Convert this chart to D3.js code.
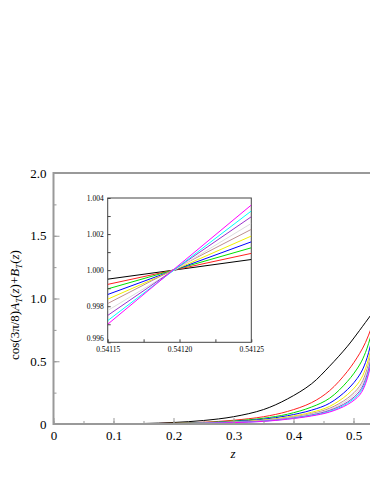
<!DOCTYPE html>
<html>
<head>
<meta charset="utf-8">
<script src="https://cdn.jsdelivr.net/npm/d3@7"></script>
<style>
  body { margin: 0; background: #fff; }
  svg { display: block; font-family: "Liberation Serif", "Times New Roman", serif; }
</style>
</head>
<body>
<svg width="370" height="479"></svg>
<script>
var zs = [0, 0.1, 0.15, 0.2, 0.25, 0.3, 0.35, 0.39, 0.43, 0.46, 0.49, 0.51, 0.52, 0.53, 0.54];

var curveBlack   = [0, 0.001, 0.004, 0.012, 0.028, 0.058, 0.115, 0.20, 0.32, 0.46, 0.62, 0.745, 0.81, 0.875, 0.94];
var curveRed     = [0, 0.0005, 0.002, 0.006, 0.014, 0.03, 0.058, 0.10, 0.17, 0.265, 0.42, 0.56, 0.65, 0.77, 0.91];
var curveGreen   = [0, 0.0004, 0.0015, 0.005, 0.011, 0.024, 0.046, 0.078, 0.135, 0.205, 0.34, 0.47, 0.57, 0.72, 0.90];
var curveBlue    = [0, 0.0003, 0.001, 0.004, 0.009, 0.02, 0.038, 0.066, 0.11, 0.165, 0.275, 0.39, 0.49, 0.66, 0.88];
var curveYellow  = [0, 0.0003, 0.001, 0.0035, 0.008, 0.017, 0.032, 0.056, 0.093, 0.14, 0.235, 0.34, 0.44, 0.62, 0.86];
var curveRosy    = [0, 0.0002, 0.001, 0.003, 0.007, 0.015, 0.028, 0.05, 0.083, 0.125, 0.205, 0.30, 0.40, 0.58, 0.84];
var curveGray    = [0, 0.0002, 0.001, 0.003, 0.0065, 0.014, 0.026, 0.046, 0.077, 0.115, 0.19, 0.28, 0.375, 0.555, 0.82];
var curvePurple  = [0, 0.0002, 0.0008, 0.0025, 0.006, 0.013, 0.024, 0.043, 0.072, 0.108, 0.175, 0.26, 0.355, 0.535, 0.80];
var curveCyan    = [0, 0.0002, 0.0008, 0.0025, 0.0055, 0.012, 0.022, 0.04, 0.068, 0.10, 0.165, 0.245, 0.335, 0.515, 0.78];
var curveMagenta = [0, 0.0002, 0.0007, 0.002, 0.005, 0.011, 0.021, 0.038, 0.064, 0.095, 0.155, 0.23, 0.32, 0.50, 0.76];

var colors = ["#000000", "#ff2020", "#00e000", "#0000ff", "#f0f000", "#bc8f8f", "#dcdcdc", "#9932cc", "#00ffff", "#ff00ff"];
var curves = [curveBlack, curveRed, curveGreen, curveBlue, curveYellow, curveRosy, curveGray, curvePurple, curveCyan, curveMagenta];

// inset: values at both ends of the zoomed z window
var insetZ = [0.54115, 0.54125];
var insetLeft  = [0.9995, 0.99921, 0.99896, 0.99865, 0.99839, 0.99815, 0.99776, 0.99749, 0.9972, 0.9970];
var insetRight = [1.00059, 1.00093, 1.00124, 1.00157, 1.00189, 1.00226, 1.00259, 1.00296, 1.00328, 1.00361];

var xTicks = [0, 0.1, 0.2, 0.3, 0.4, 0.5];
var xTickLabels = ["0", "0.1", "0.2", "0.3", "0.4", "0.5"];
var yTicks = [0, 0.5, 1.0, 1.5, 2.0];
var yTickLabels = ["0", "0.5", "1.0", "1.5", "2.0"];
var insetXTicks = [0.54115, 0.5412, 0.54125];
var insetXLabels = ["0.54115", "0.54120", "0.54125"];
var insetYTicks = [0.996, 0.998, 1.0, 1.002, 1.004];
var insetYLabels = ["0.996", "0.998", "1.000", "1.002", "1.004"];

var svg = d3.select("svg");
var frameColor = "#999";
var serif = "Liberation Serif, Times New Roman, serif";

// main panel
var x = d3.scaleLinear().domain([0, 0.55]).range([53.5, 383.5]);
var y = d3.scaleLinear().domain([0, 2]).range([424, 173]);

var g = svg.append("g");

var line = d3.line()
  .x(function (d) { return x(d[0]); })
  .y(function (d) { return y(d[1]); })
  .curve(d3.curveCatmullRom.alpha(0.5));

curves.forEach(function (c, i) {
  g.append("path")
    .datum(zs.map(function (z, j) { return [z, c[j]]; }))
    .attr("d", line)
    .attr("fill", "none")
    .attr("stroke", colors[i])
    .attr("stroke-width", 1);
});

// frame
g.append("rect")
  .attr("x", x(0)).attr("y", y(2))
  .attr("width", x(0.55) - x(0)).attr("height", y(0) - y(2))
  .attr("fill", "none").attr("stroke", frameColor).attr("stroke-width", 2);

// ticks pointing inward
var xAxis = d3.axisBottom(x).tickValues(d3.range(0, 0.551, 0.05)).tickSize(-3).tickFormat("");
var xMajor = d3.axisBottom(x).tickValues(xTicks).tickSize(-6)
  .tickFormat(function (d, i) { return xTickLabels[i]; }).tickPadding(7);
g.append("g").attr("transform", "translate(0," + y(0) + ")").call(xAxis);
g.append("g").attr("transform", "translate(0," + y(0) + ")").call(xMajor);

var yAxis = d3.axisLeft(y).tickValues(d3.range(0, 2.01, 0.25)).tickSize(-3).tickFormat("");
var yMajor = d3.axisLeft(y).tickValues(yTicks).tickSize(-6)
  .tickFormat(function (d, i) { return yTickLabels[i]; }).tickPadding(7);
g.append("g").attr("transform", "translate(" + x(0) + ",0)").call(yAxis);
g.append("g").attr("transform", "translate(" + x(0) + ",0)").call(yMajor);

g.selectAll(".domain").remove();
g.selectAll(".tick line").attr("stroke", frameColor).attr("stroke-width", 1);
g.selectAll("g").attr("font-family", serif);
g.selectAll(".tick text")
  .attr("fill", "#000")
  .style("font-family", serif)
  .style("font-size", "13px");

// axis titles
g.append("text")
  .attr("x", 233).attr("y", 458)
  .attr("text-anchor", "middle")
  .style("font-size", "13px").style("font-style", "italic")
  .text("z");

var yl = g.append("text")
  .attr("transform", "translate(19,305) rotate(-90)")
  .attr("text-anchor", "middle")
  .style("font-size", "13px");
yl.append("tspan").text("cos(3π/8)");
yl.append("tspan").style("font-style", "italic").text("A");
yl.append("tspan").style("font-style", "italic").style("font-size", "9px").attr("dy", 3).text("T");
yl.append("tspan").attr("dy", -3).text("(");
yl.append("tspan").style("font-style", "italic").text("z");
yl.append("tspan").text(")+");
yl.append("tspan").style("font-style", "italic").text("B");
yl.append("tspan").style("font-style", "italic").style("font-size", "9px").attr("dy", 3).text("T");
yl.append("tspan").attr("dy", -3).text("(");
yl.append("tspan").style("font-style", "italic").text("z");
yl.append("tspan").text(")");

// inset
var ix = d3.scaleLinear().domain([0.54115, 0.54125]).range([107.7, 251.3]);
var iy = d3.scaleLinear().domain([0.996, 1.004]).range([342.3, 198]);

var ins = svg.append("g");

ins.append("rect")
  .attr("x", ix.range()[0]).attr("y", iy.range()[1])
  .attr("width", ix.range()[1] - ix.range()[0]).attr("height", iy.range()[0] - iy.range()[1])
  .attr("fill", "#fff").attr("stroke", "#444").attr("stroke-width", 1);

svg.append("clipPath").attr("id", "insclip")
  .append("rect")
  .attr("x", ix.range()[0]).attr("y", iy.range()[1])
  .attr("width", ix.range()[1] - ix.range()[0]).attr("height", iy.range()[0] - iy.range()[1]);

var iline = d3.line()
  .x(function (d) { return ix(d[0]); })
  .y(function (d) { return iy(d[1]); });

ins.append("g").attr("clip-path", "url(#insclip)")
  .selectAll("path")
  .data(colors)
  .enter()
  .append("path")
  .attr("d", function (c, i) { return iline([[insetZ[0], insetLeft[i]], [insetZ[1], insetRight[i]]]); })
  .attr("fill", "none")
  .attr("stroke", function (c) { return c; })
  .attr("stroke-width", 1);

ins.append("g").attr("transform", "translate(0," + iy(0.996) + ")")
  .call(d3.axisBottom(ix).tickValues([0.54115, 0.541175, 0.5412, 0.541225, 0.54125]).tickSize(-3).tickFormat(""));
ins.append("g").attr("transform", "translate(0," + iy(0.996) + ")")
  .call(d3.axisBottom(ix).tickValues(insetXTicks).tickSize(0)
    .tickFormat(function (d, i) { return insetXLabels[i]; }).tickPadding(4));
ins.append("g").attr("transform", "translate(" + ix(0.54115) + ",0)")
  .call(d3.axisLeft(iy).tickValues(d3.range(0.996, 1.0045, 0.001)).tickSize(-3).tickFormat(""));
var iyLab = ins.append("g").attr("transform", "translate(" + ix(0.54115) + ",0)")
  .call(d3.axisLeft(iy).tickValues(insetYTicks).tickSize(0)
    .tickFormat(function (d, i) { return insetYLabels[i]; }).tickPadding(4));
// lowest label sits just above the x labels, as in the original
iyLab.selectAll(".tick text").filter(function (d) { return d < 0.997; }).attr("dy", "-0.3em");

ins.selectAll(".domain").remove();
ins.selectAll(".tick line").attr("stroke", "#444");
ins.selectAll("g").attr("font-family", serif);
ins.selectAll(".tick text")
  .attr("fill", "#000")
  .style("font-family", serif)
  .style("font-size", "7.5px");
</script>
</body>
</html>
